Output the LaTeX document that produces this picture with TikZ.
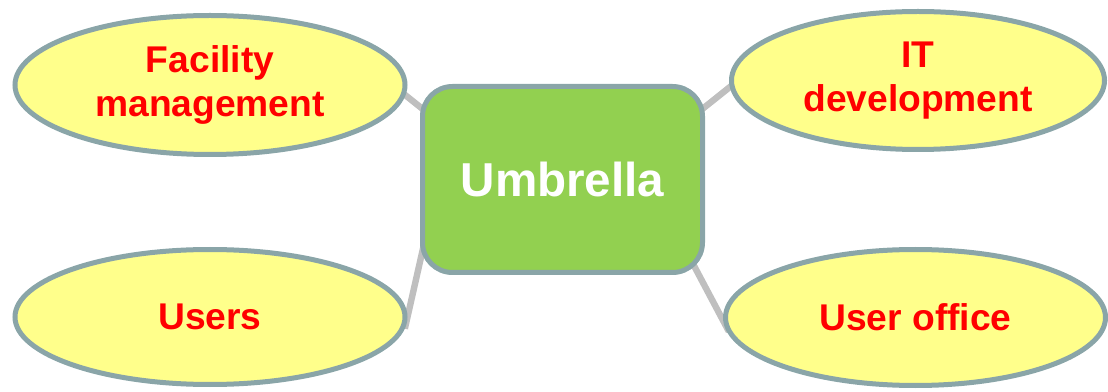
\documentclass[tikz,border=0pt]{standalone}
\usepackage{fontspec}
\setsansfont{Liberation Sans}
\usetikzlibrary{shapes.geometric,backgrounds}
\definecolor{rim}{HTML}{8AA5A8}
\definecolor{lemon}{HTML}{FFFF8B}
\definecolor{leaf}{HTML}{92D050}
\definecolor{spoke}{HTML}{BFBFBF}
\begin{document}
\begin{tikzpicture}
  [x=0.5pt,y=0.5pt,
   every node/.style={font=\sffamily\bfseries\fontsize{18.6}{22}\selectfont,align=center,
     line width=2.5pt,draw=rim,inner sep=0pt},
   topic/.style={ellipse,fill=lemon,text=red},
   hub/.style={rounded corners=15pt,fill=leaf,text=white,
     font=\sffamily\bfseries\fontsize{23.8}{28}\selectfont,minimum width=140pt,minimum height=93pt},
   link/.style={line width=3.2pt,draw=spoke,shorten <=-6pt,shorten >=-10pt}]
    \useasboundingbox (0,0) rectangle (1108,391);

    \node (um) [hub] at (562.5,211.5) {Umbrella};
    \node (fm) [topic,minimum width=195pt,minimum height=69.5pt] at (210,306)    {Facility\\management};
    \node (it) [topic,minimum width=186.5pt,minimum height=69pt] at (918,310.5) {IT\\development};
    \node (us) [topic,minimum width=195pt,minimum height=67.5pt] at (210,74)     {Users};
    \node (uo) [topic,minimum width=190pt,minimum height=68pt]   at (915.5,73.5) {User office};

    \begin{scope}[on background layer]
      \foreach \from/\to in {fm.-3/um.153,it.182/um.27,us.east/um.210,uo.181/um.-35}
        \draw[link] (\from) -- (\to);
    \end{scope}
  \end{tikzpicture}
\end{document}
